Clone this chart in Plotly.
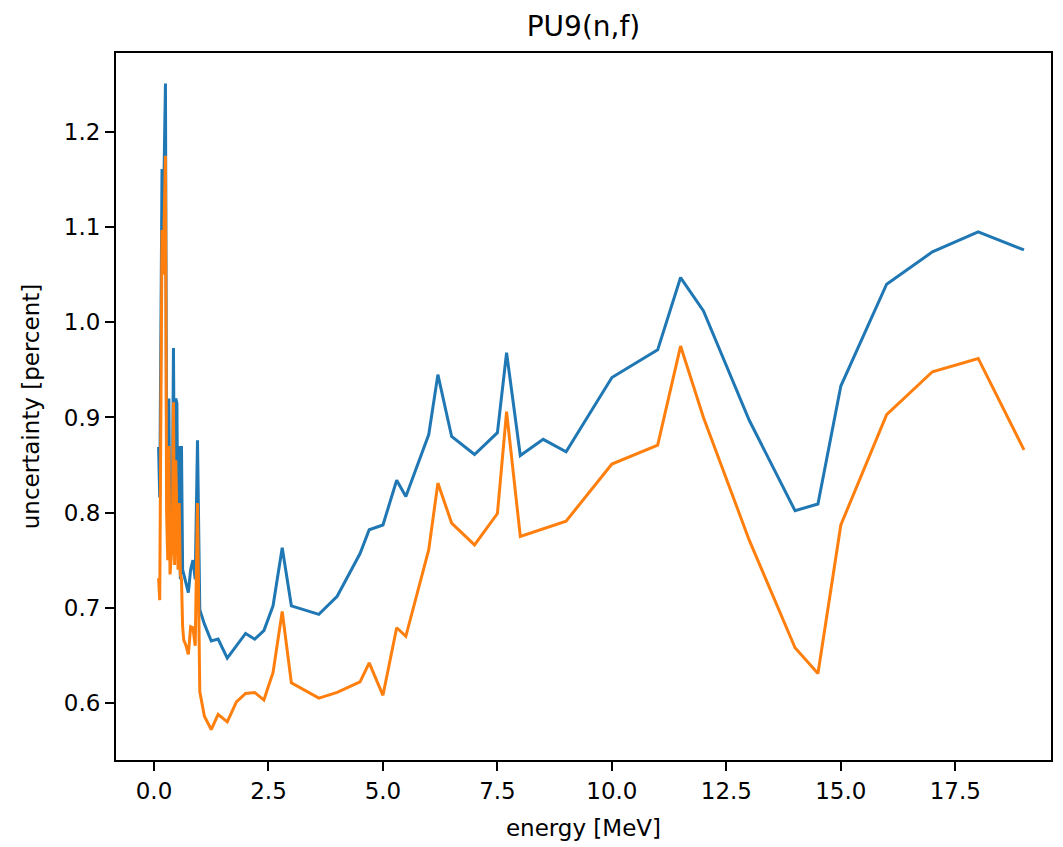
import plotly.graph_objects as go

energy = [0.10, 0.125, 0.175, 0.2, 0.25, 0.275, 0.3, 0.325, 0.35, 0.4, 0.425, 0.45, 0.475,
          0.5, 0.525, 0.55, 0.575, 0.6, 0.625, 0.65, 0.7, 0.75, 0.8, 0.85, 0.9, 0.95, 1.0,
          1.1, 1.25, 1.4, 1.6, 1.8, 2.0, 2.2, 2.4, 2.6, 2.8, 3.0, 3.6, 4.0, 4.5, 4.7, 5.0,
          5.3, 5.5, 6.0, 6.2, 6.5, 7.0, 7.5, 7.7, 8.0, 8.5, 9.0, 10.0, 11.0, 11.5, 12.0,
          13.0, 14.0, 14.5, 15.0, 16.0, 17.0, 18.0, 19.0]

unc_blue = [0.869, 0.816, 1.161, 1.097, 1.251, 0.86, 0.80, 0.92, 0.75, 0.80, 0.973, 0.78, 0.92,
            0.915, 0.76, 0.87, 0.73, 0.87, 0.74, 0.735, 0.725, 0.716, 0.74, 0.75, 0.73, 0.876, 0.698,
            0.683, 0.665, 0.667, 0.647, 0.660, 0.673, 0.667, 0.676, 0.702, 0.763, 0.702, 0.693,
            0.712, 0.757, 0.782, 0.787, 0.834, 0.817, 0.882, 0.945, 0.880, 0.861, 0.884, 0.968,
            0.860, 0.877, 0.864, 0.942, 0.971, 1.047, 1.012, 0.897, 0.802, 0.809, 0.933, 1.040,
            1.074, 1.095, 1.076]

unc_orange = [0.731, 0.708, 1.097, 1.05, 1.175, 0.80, 0.75, 0.87, 0.735, 0.77, 0.916, 0.745, 0.855,
              0.81, 0.74, 0.81, 0.735, 0.73, 0.68, 0.666, 0.66, 0.651, 0.68, 0.679, 0.66, 0.81, 0.612,
              0.586, 0.572, 0.588, 0.580, 0.601, 0.610, 0.611, 0.603, 0.632, 0.696, 0.621, 0.605,
              0.611, 0.622, 0.642, 0.608, 0.679, 0.670, 0.761, 0.831, 0.789, 0.766, 0.799, 0.906,
              0.775, 0.783, 0.791, 0.851, 0.871, 0.975, 0.900, 0.771, 0.658, 0.631, 0.787, 0.903,
              0.948, 0.962, 0.866]

x_ticks = [0.0, 2.5, 5.0, 7.5, 10.0, 12.5, 15.0, 17.5]
y_ticks = [0.6, 0.7, 0.8, 0.9, 1.0, 1.1, 1.2]

fig = go.Figure()
fig.add_trace(go.Scatter(x=energy, y=unc_blue, mode="lines",
                         line=dict(color="#1f77b4", width=3), showlegend=False))
fig.add_trace(go.Scatter(x=energy, y=unc_orange, mode="lines",
                         line=dict(color="#ff7f0e", width=3), showlegend=False))

font_family = "DejaVu Sans"
fig.update_layout(
    width=1063, height=847,
    margin=dict(l=116, r=10, t=53, b=87),
    paper_bgcolor="white", plot_bgcolor="white",
    font=dict(family=font_family, size=23, color="#000000"),
    title=dict(text="PU9(n,f)", x=0.5, xref="paper", y=1 - 26 / 847, yref="container",
               xanchor="center", yanchor="middle", font=dict(size=28, color="#000000")),
)
fig.update_xaxes(
    range=[-0.83, 19.59], tickvals=x_ticks, ticktext=[f"{v:.1f}" for v in x_ticks],
    showgrid=False, zeroline=False, showline=True, linecolor="black", linewidth=2,
    mirror=True, ticks="outside", ticklen=9, tickwidth=2, tickcolor="black",
    title=dict(text="energy [MeV]", standoff=17, font=dict(size=23)),
)
fig.update_yaxes(
    range=[0.540, 1.283], tickvals=y_ticks, ticktext=[f"{v:.1f}" for v in y_ticks],
    showgrid=False, zeroline=False, showline=True, linecolor="black", linewidth=2,
    mirror=True, ticks="outside", ticklen=9, tickwidth=2, tickcolor="black",
    title=dict(text="uncertainty [percent]", standoff=18, font=dict(size=23)),
)

fig.write_html("out.html")
